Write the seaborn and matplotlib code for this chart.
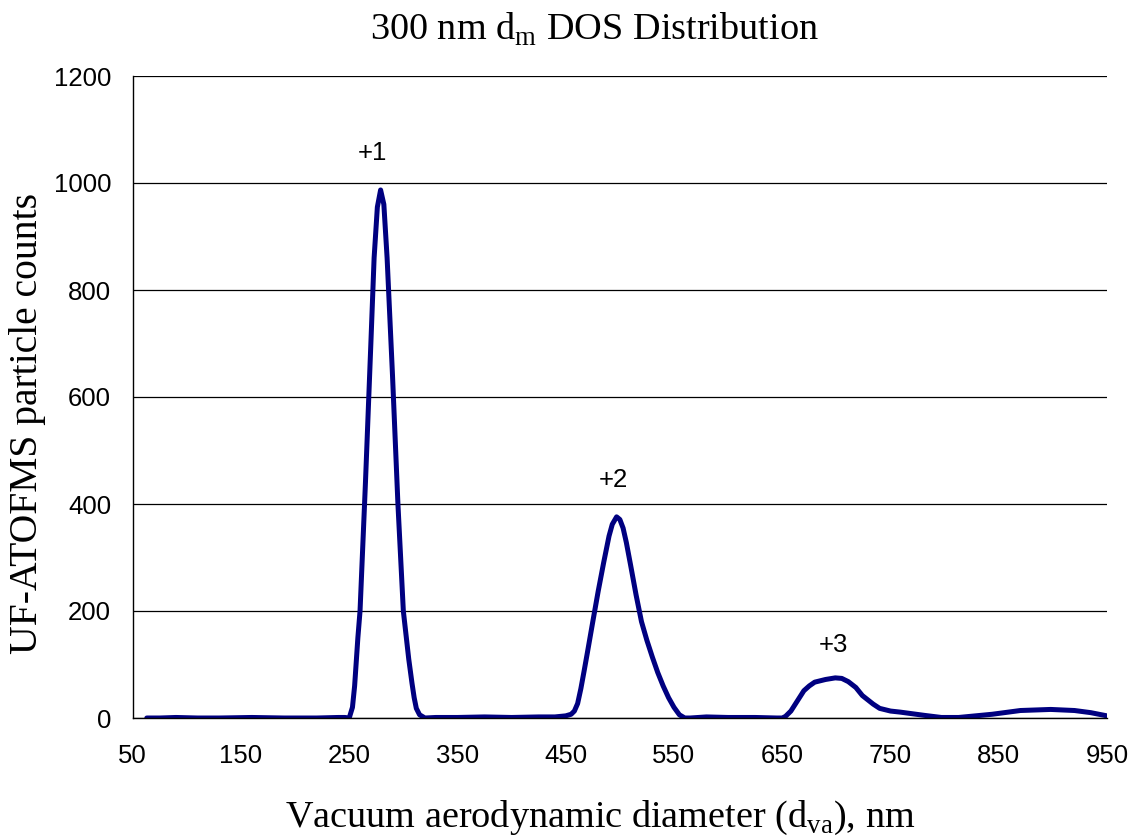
import numpy as np
import pandas as pd
import matplotlib
matplotlib.use("Agg")
import matplotlib.pyplot as plt
import seaborn as sns

# ---- data ----
diameter_nm = [63, 75, 90, 110, 130, 160, 190, 220, 240, 246, 250, 253, 255, 258, 260,
               265, 270, 273, 276, 279, 282, 285, 290, 295, 300, 305, 308, 310, 312,
               315, 320, 330, 350, 375, 400, 425, 440, 445, 450, 455, 458, 461, 464,
               467, 470, 475, 480, 485, 490, 493, 497, 500, 503, 506, 510, 515, 520,
               525, 530, 535, 540, 545, 550, 555, 560, 565, 580, 600, 625, 645, 650,
               653, 658, 664, 670, 675, 680, 690, 699, 705, 711, 718, 724, 734, 740,
               750, 759, 781, 797, 813, 844, 870, 898, 920, 935, 950]
particle_counts = [0, 0, 1, 0, 0, 1, 0, 0, 1, 1, 0, 20, 60, 150, 200,
                   440, 700, 860, 955, 987, 960, 860, 640, 400, 200, 110, 65, 38, 18,
                   6, 0, 1, 1, 2, 1, 2, 2, 3, 4, 7, 13, 27, 55,
                   88, 122, 180, 237, 290, 340, 362, 376, 371, 355, 328, 285, 230, 180,
                   145, 114, 85, 60, 38, 20, 6, 0, 0, 2, 1, 1, 0, 0,
                   3, 13, 32, 51, 60, 67, 72, 75, 74, 68, 57, 42, 26, 18,
                   13, 11, 5, 1, 1, 7, 14, 16, 14, 10, 4]

peak_labels = ["+1", "+2", "+3"]
peak_label_x = [271, 494, 697]
peak_label_y = [1056, 445, 136]

x_ticks = [50, 150, 250, 350, 450, 550, 650, 750, 850, 950]
y_ticks = [0, 200, 400, 600, 800, 1000, 1200]

title_text = r"300 nm d$_\mathregular{m}$ DOS Distribution"
xlabel_text = r"Vacuum aerodynamic diameter (d$_\mathregular{va}$), nm"
ylabel_text = "UF-ATOFMS particle counts"

df = pd.DataFrame({"diameter": diameter_nm, "counts": particle_counts})

sns.set_theme(style="white")
plt.rcParams["font.family"] = ["Liberation Sans", "DejaVu Sans"]

W, H = 1136, 839
fig = plt.figure(figsize=(W / 100, H / 100), dpi=100)
ax = fig.add_axes([132.7 / W, 1 - 718 / H, (1107 - 132.7) / W, (718 - 76) / H])

sns.lineplot(data=df, x="diameter", y="counts", ax=ax, color="#000080",
             linewidth=3.6, solid_joinstyle="round", solid_capstyle="round")

ax.set_xlim(50, 950)
ax.set_ylim(0, 1200)
ax.set_xticks(x_ticks)
ax.set_yticks(y_ticks)
ax.set_xticklabels([str(v) for v in x_ticks])
ax.set_yticklabels([str(v) for v in y_ticks])
ax.tick_params(axis="both", direction="out", length=6.5, width=1, color="black",
               labelsize=18.5, labelcolor="black")
ax.tick_params(axis="x", pad=12)
ax.tick_params(axis="y", pad=9)
ax.yaxis.grid(True, color="black", linewidth=0.9)
ax.xaxis.grid(False)
ax.set_axisbelow(True)
for s in ["top", "right"]:
    ax.spines[s].set_visible(False)
for s in ["left", "bottom"]:
    ax.spines[s].set_color("black")
    ax.spines[s].set_linewidth(1.0)
ax.set_xlabel("")
ax.set_ylabel("")

for lab, lx, ly in zip(peak_labels, peak_label_x, peak_label_y):
    ax.text(lx, ly, lab, ha="center", va="center", fontsize=18.5, color="black")

serif = ["Liberation Serif", "DejaVu Serif"]
plt.rcParams["mathtext.fontset"] = "custom"
plt.rcParams["mathtext.rm"] = "Liberation Serif"
fig.text(594.5 / W, 1 - 40 / H, title_text, ha="center", va="baseline",
         fontsize=27.5, family=serif, color="black")
fig.text(600.5 / W, 1 - 827 / H, xlabel_text, ha="center", va="baseline",
         fontsize=27.5, family=serif, color="black")
fig.text(28 / W, 1 - 424 / H, ylabel_text, ha="center", va="center", rotation=90,
         fontsize=28.5, family=serif, color="black")

fig.savefig("out.png", dpi=100, facecolor="white")
